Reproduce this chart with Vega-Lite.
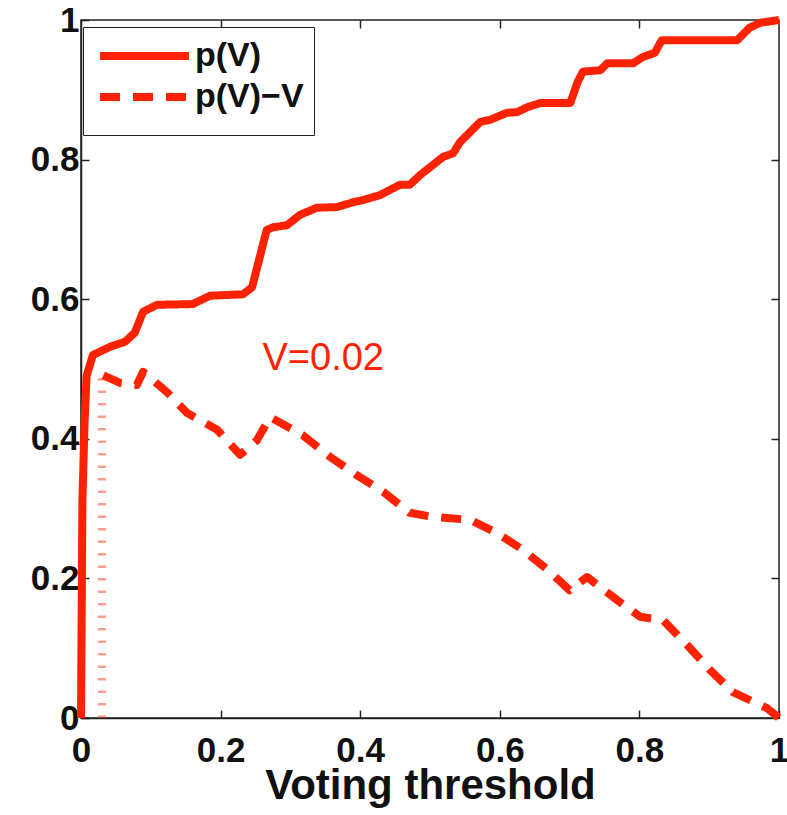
{
  "$schema": "https://vega.github.io/schema/vega-lite/v6.json",
  "width": 698,
  "height": 698,
  "autosize": "none",
  "padding": {"left": 81, "top": 20, "right": 8, "bottom": 97},
  "config": {
    "view": {"stroke": "#222", "strokeWidth": 1.5},
    "font": "Liberation Sans",
    "axis": {
      "domainColor": "#222",
      "domainWidth": 1.5,
      "tickColor": "#222",
      "tickWidth": 1.5,
      "tickSize": -8,
      "grid": false,
      "labelFlush": false,
      "labelFont": "Liberation Sans",
      "labelFontSize": 35,
      "labelFontWeight": "bold",
      "labelColor": "#111",
      "titleFont": "Liberation Sans",
      "titleColor": "#111"
    }
  },
  "datasets": {
    "curves": [
      {"v": 0, "p": 0, "series": "p(V)"},
      {"v": 0.002, "p": 0.31, "series": "p(V)"},
      {"v": 0.005, "p": 0.42, "series": "p(V)"},
      {"v": 0.008, "p": 0.49, "series": "p(V)"},
      {"v": 0.017, "p": 0.52, "series": "p(V)"},
      {"v": 0.042, "p": 0.532, "series": "p(V)"},
      {"v": 0.063, "p": 0.539, "series": "p(V)"},
      {"v": 0.077, "p": 0.552, "series": "p(V)"},
      {"v": 0.089, "p": 0.582, "series": "p(V)"},
      {"v": 0.109, "p": 0.592, "series": "p(V)"},
      {"v": 0.16, "p": 0.593, "series": "p(V)"},
      {"v": 0.185, "p": 0.605, "series": "p(V)"},
      {"v": 0.232, "p": 0.607, "series": "p(V)"},
      {"v": 0.245, "p": 0.617, "series": "p(V)"},
      {"v": 0.266, "p": 0.699, "series": "p(V)"},
      {"v": 0.275, "p": 0.703, "series": "p(V)"},
      {"v": 0.295, "p": 0.706, "series": "p(V)"},
      {"v": 0.314, "p": 0.721, "series": "p(V)"},
      {"v": 0.338, "p": 0.731, "series": "p(V)"},
      {"v": 0.367, "p": 0.732, "series": "p(V)"},
      {"v": 0.39, "p": 0.739, "series": "p(V)"},
      {"v": 0.404, "p": 0.742, "series": "p(V)"},
      {"v": 0.428, "p": 0.749, "series": "p(V)"},
      {"v": 0.457, "p": 0.764, "series": "p(V)"},
      {"v": 0.471, "p": 0.764, "series": "p(V)"},
      {"v": 0.486, "p": 0.778, "series": "p(V)"},
      {"v": 0.519, "p": 0.804, "series": "p(V)"},
      {"v": 0.533, "p": 0.809, "series": "p(V)"},
      {"v": 0.543, "p": 0.825, "series": "p(V)"},
      {"v": 0.572, "p": 0.854, "series": "p(V)"},
      {"v": 0.586, "p": 0.857, "series": "p(V)"},
      {"v": 0.61, "p": 0.867, "series": "p(V)"},
      {"v": 0.625, "p": 0.868, "series": "p(V)"},
      {"v": 0.639, "p": 0.875, "series": "p(V)"},
      {"v": 0.658, "p": 0.881, "series": "p(V)"},
      {"v": 0.701, "p": 0.881, "series": "p(V)"},
      {"v": 0.711, "p": 0.91, "series": "p(V)"},
      {"v": 0.719, "p": 0.926, "series": "p(V)"},
      {"v": 0.744, "p": 0.928, "series": "p(V)"},
      {"v": 0.754, "p": 0.938, "series": "p(V)"},
      {"v": 0.791, "p": 0.938, "series": "p(V)"},
      {"v": 0.805, "p": 0.947, "series": "p(V)"},
      {"v": 0.822, "p": 0.953, "series": "p(V)"},
      {"v": 0.832, "p": 0.971, "series": "p(V)"},
      {"v": 0.94, "p": 0.971, "series": "p(V)"},
      {"v": 0.958, "p": 0.989, "series": "p(V)"},
      {"v": 0.973, "p": 0.996, "series": "p(V)"},
      {"v": 1, "p": 1, "series": "p(V)"},
      {"v": 0.032, "p": 0.491, "series": "p(V)−V"},
      {"v": 0.056, "p": 0.48, "series": "p(V)−V"},
      {"v": 0.08, "p": 0.477, "series": "p(V)−V"},
      {"v": 0.089, "p": 0.496, "series": "p(V)−V"},
      {"v": 0.123, "p": 0.467, "series": "p(V)−V"},
      {"v": 0.152, "p": 0.437, "series": "p(V)−V"},
      {"v": 0.195, "p": 0.413, "series": "p(V)−V"},
      {"v": 0.228, "p": 0.377, "series": "p(V)−V"},
      {"v": 0.252, "p": 0.398, "series": "p(V)−V"},
      {"v": 0.271, "p": 0.431, "series": "p(V)−V"},
      {"v": 0.318, "p": 0.405, "series": "p(V)−V"},
      {"v": 0.357, "p": 0.374, "series": "p(V)−V"},
      {"v": 0.395, "p": 0.348, "series": "p(V)−V"},
      {"v": 0.433, "p": 0.324, "series": "p(V)−V"},
      {"v": 0.471, "p": 0.294, "series": "p(V)−V"},
      {"v": 0.504, "p": 0.288, "series": "p(V)−V"},
      {"v": 0.557, "p": 0.284, "series": "p(V)−V"},
      {"v": 0.596, "p": 0.265, "series": "p(V)−V"},
      {"v": 0.633, "p": 0.241, "series": "p(V)−V"},
      {"v": 0.669, "p": 0.212, "series": "p(V)−V"},
      {"v": 0.7, "p": 0.183, "series": "p(V)−V"},
      {"v": 0.725, "p": 0.202, "series": "p(V)−V"},
      {"v": 0.768, "p": 0.169, "series": "p(V)−V"},
      {"v": 0.801, "p": 0.145, "series": "p(V)−V"},
      {"v": 0.834, "p": 0.14, "series": "p(V)−V"},
      {"v": 0.868, "p": 0.105, "series": "p(V)−V"},
      {"v": 0.901, "p": 0.069, "series": "p(V)−V"},
      {"v": 0.934, "p": 0.037, "series": "p(V)−V"},
      {"v": 0.983, "p": 0.014, "series": "p(V)−V"},
      {"v": 1, "p": 0.0, "series": "p(V)−V"}
    ],
    "marker": [{"v": 0.03, "lo": 0, "hi": 0.487}],
    "note": [{"v": 0.26, "p": 0.499, "t": "V=0.02"}]
  },
  "layer": [
    {
      "data": {"name": "curves"},
      "mark": {"type": "line", "strokeWidth": 8, "strokeCap": "butt", "strokeJoin": "round"},
      "encoding": {
        "x": {
          "field": "v", "type": "quantitative",
          "scale": {"domain": [0, 1], "nice": false, "zero": false},
          "axis": {"orient": "bottom", "title": "Voting threshold", "values": [0, 0.2, 0.4, 0.6, 0.8, 1], "format": "~g", "labelPadding": 23, "titleFontSize": 42, "titleFontWeight": "bold", "titlePadding": -3}
        },
        "y": {
          "field": "p", "type": "quantitative",
          "scale": {"domain": [0, 1], "nice": false, "zero": false},
          "axis": {"orient": "left", "title": null, "values": [0, 0.2, 0.4, 0.6, 0.8, 1], "format": "~g", "labelPadding": 10}
        },
        "color": {
          "field": "series", "type": "nominal",
          "scale": {"domain": ["p(V)", "p(V)−V"], "range": ["#ff2200", "#ff2200"]},
          "legend": {"orient": "none", "legendX": 2, "legendY": 7, "title": " ", "titleOrient": "bottom", "titleFontSize": 1, "titlePadding": 10, "symbolType": "M-0.8,0L5.13,0", "symbolSize": 900, "symbolStrokeWidth": 8, "labelFontSize": 34, "labelFontWeight": "bold", "labelOffset": 64, "labelLimit": 400, "padding": 10, "rowPadding": 5, "strokeColor": "#222", "fillColor": "white", "labelFont": "Liberation Sans", "labelColor": "#111"}
        },
        "strokeDash": {
          "field": "series", "type": "nominal",
          "scale": {"domain": ["p(V)", "p(V)−V"], "range": [[1, 0], [20, 13]]},
          "legend": {"orient": "none", "legendX": 2, "legendY": 7, "title": " ", "titleOrient": "bottom", "titleFontSize": 1, "titlePadding": 10, "symbolType": "M-0.8,0L5.13,0", "symbolSize": 900, "symbolStrokeWidth": 8, "labelFontSize": 34, "labelFontWeight": "bold", "labelOffset": 64, "labelLimit": 400, "padding": 10, "rowPadding": 5, "strokeColor": "#222", "fillColor": "white", "labelFont": "Liberation Sans", "labelColor": "#111"}
        }
      }
    },
    {
      "data": {"name": "marker"},
      "mark": {"type": "rule", "strokeWidth": 8, "strokeDash": [2.5, 10], "strokeCap": "butt", "color": "#ff2200", "opacity": 0.45},
      "encoding": {
        "x": {"field": "v", "type": "quantitative", "axis": {"orient": "top", "labels": false, "title": null, "domain": false, "values": [0.2, 0.4, 0.6, 0.8]}},
        "y": {"field": "lo", "type": "quantitative", "axis": {"orient": "right", "labels": false, "title": null, "domain": false, "values": [0.2, 0.4, 0.6, 0.8]}},
        "y2": {"field": "hi"}
      }
    },
    {
      "data": {"name": "note"},
      "mark": {"type": "text", "align": "left", "baseline": "alphabetic", "fontSize": 38, "color": "#ff2200", "font": "Liberation Sans"},
      "encoding": {
        "x": {"field": "v", "type": "quantitative", "axis": null},
        "y": {"field": "p", "type": "quantitative", "axis": null},
        "text": {"field": "t"}
      }
    }
  ],
  "resolve": {"axis": {"x": "independent", "y": "independent"}}
}
